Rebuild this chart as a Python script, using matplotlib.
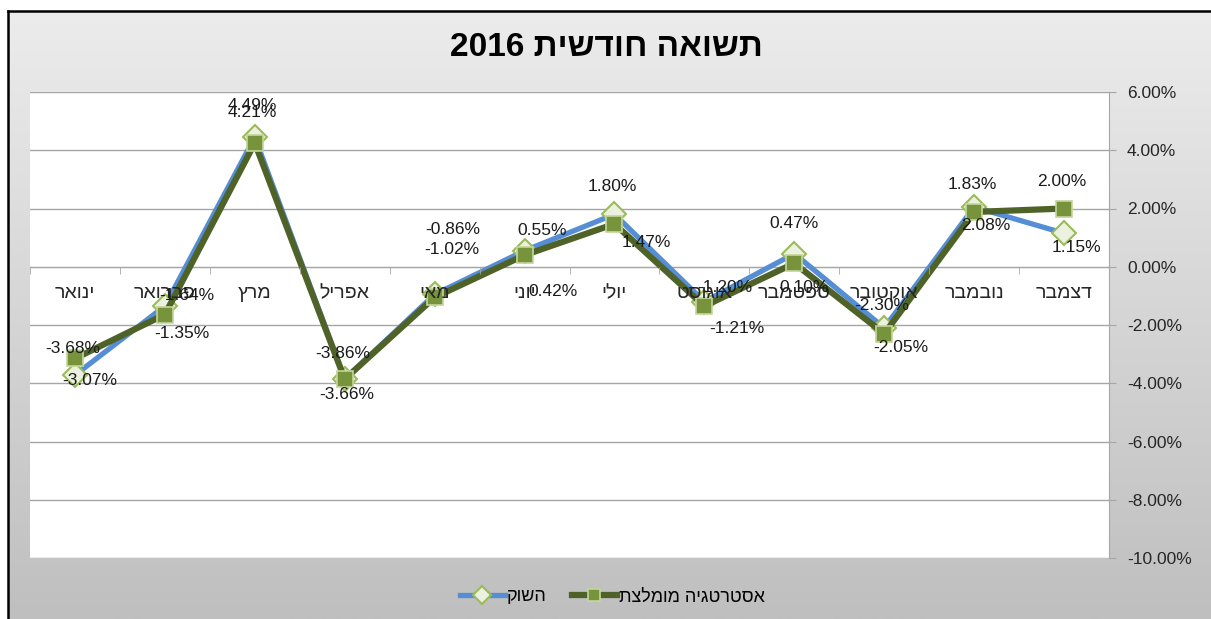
import matplotlib
matplotlib.use('Agg')
import matplotlib.pyplot as plt
import numpy as np
from matplotlib.ticker import FixedLocator, FuncFormatter

plt.rcParams['font.family'] = ['Liberation Sans', 'DejaVu Sans']

# month names (logical order, right-to-left script)
months = ['ינואר', 'פברואר', 'מרץ', 'אפריל', 'מאי', 'יוני',
          'יולי', 'אוגוסט', 'ספטמבר', 'אוקטובר', 'נובמבר', 'דצמבר']

# monthly return in percent
market = [-3.72, -1.35, 4.45, -3.86, -0.95, 0.55, 1.80, -1.20, 0.45, -2.10, 2.05, 1.15]
strategy = [-3.15, -1.64, 4.25, -3.86, -1.05, 0.40, 1.47, -1.35, 0.12, -2.30, 1.88, 2.00]

# data label texts as printed in the chart
market_labels = ['-3.07%', '-1.35%', '4.49%', '-3.86%', '-0.86%', '0.55%',
                 '1.80%', '-1.20%', '0.47%', '-2.05%', '2.08%', '1.15%']
strategy_labels = ['-3.68%', '-1.64%', '4.21%', '-3.66%', '-1.02%', '0.42%',
                   '1.47%', '-1.21%', '0.10%', '-2.30%', '1.83%', '2.00%']

title = 'תשואה חודשית 2016'
market_name = 'השוק'
strategy_name = 'אסטרטגיה מומלצת'


def rtl(s):
    # simple visual reordering for hebrew text
    parts = s.split(' ')
    return ' '.join(p if p.isascii() else p[::-1] for p in reversed(parts))


W, H = 1211, 619
fig = plt.figure(figsize=(W / 100, H / 100), dpi=100)
fig.patch.set_facecolor('white')

# chart area background (gradient) with black border on left/top
bg = fig.add_axes([8 / W, 0, 1 - 8 / W, 1 - 11 / H])
grad = np.linspace(0, 1, 256).reshape(-1, 1)
bg.imshow(grad, aspect='auto', cmap=matplotlib.colors.LinearSegmentedColormap.from_list(
    'g', ['#ececec', '#bfbfbf']), extent=[0, 1, 0, 1], origin='upper')
bg.set_xticks([])
bg.set_yticks([])
for side in ['right', 'bottom']:
    bg.spines[side].set_visible(False)
for side in ['left', 'top']:
    bg.spines[side].set_color('black')
    bg.spines[side].set_linewidth(1.8)

ax = fig.add_axes([30 / W, (H - 558) / H, 1079 / W, 466 / H])
ax.set_facecolor('white')
x = np.arange(len(months))
ax.set_xlim(-0.5, len(months) - 0.5)
ax.set_ylim(-10, 6)

ax.yaxis.tick_right()
ax.set_yticks(np.arange(-10, 6.1, 2))
ax.yaxis.set_major_formatter(FuncFormatter(lambda v, p: f'{v:.2f}%'))
ax.tick_params(axis='y', length=5, color='#a6a6a6', pad=8, labelsize=12.5, labelcolor='#262626')
ax.grid(axis='y', color='#a6a6a6', lw=1)
ax.set_axisbelow(True)

for side in ['left', 'top']:
    ax.spines[side].set_visible(False)
ax.spines['right'].set_color('#a6a6a6')
ax.spines['bottom'].set_position(('data', 0))
ax.spines['bottom'].set_color('#a6a6a6')

ax.set_xticks(x)
ax.set_xticklabels([rtl(m) for m in months])
ax.xaxis.set_minor_locator(FixedLocator(np.arange(-0.5, len(months), 1)))
ax.tick_params(axis='x', which='major', length=0, pad=13, labelsize=14, labelcolor='#262626')
ax.tick_params(axis='x', which='minor', length=5, color='#a6a6a6')
# month names sit on top of the lines, like the original
ax.xaxis.set_zorder(5)

ax.plot(x, market, color='#558ed5', lw=3.8, marker='D', ms=12, mfc='#ebf1de',
        mec='#9bbb59', mew=1.5, label=rtl(market_name), zorder=3)
ax.plot(x, strategy, color='#4f6228', lw=4.5, marker='s', ms=12, mfc='#77933c',
        mec='#c3d69b', mew=1.2, label=rtl(strategy_name), zorder=4)

# label offsets in pixels (dx right, dy down) relative to the markers
market_offsets = [(15, 5), (17, 27), (-2, -32), (-2, -26), (18, -65), (18, -20),
                  (-2, -28), (20, -14), (0, -30), (17, 20), (12, 18), (12, 14)]
strategy_offsets = [(-2, -10), (22, -19), (-2, -30), (2, 15), (17, -48), (28, 36),
                    (32, 19), (32, 22), (10, 24), (-2, -28), (-2, -27), (-2, -27)]

for vals, labs, offs in [(market, market_labels, market_offsets),
                         (strategy, strategy_labels, strategy_offsets)]:
    for i, (v, t, (dx, dy)) in enumerate(zip(vals, labs, offs)):
        ax.annotate(t, (i, v), xytext=(dx, -dy), textcoords='offset pixels',
                    ha='center', va='center', fontsize=12.5, color='#1a1a1a', zorder=6)

fig.text(606 / W, 1 - 47 / H, rtl(title), ha='center', va='center',
         fontsize=24, fontweight='bold', color='black')

fig.legend(loc='center', bbox_to_anchor=(612 / W, 1 - 597 / H), ncol=2, frameon=False,
           fontsize=13, handlelength=2.5, columnspacing=1.4, handletextpad=0.1,
           markerscale=0.75)

fig.savefig('out.png', dpi=100)
